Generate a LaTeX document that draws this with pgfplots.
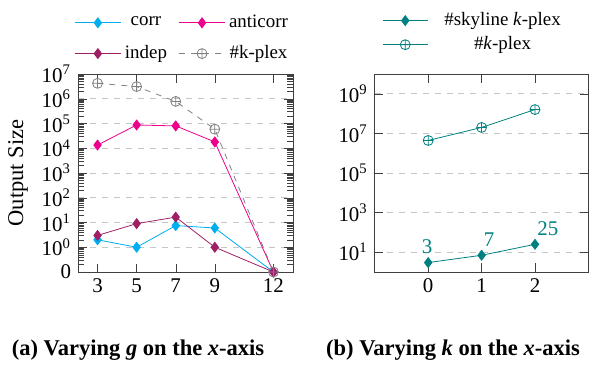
\documentclass[border=0pt]{standalone}
\usepackage{fontspec}
\setmainfont{Liberation Serif}
\usepackage{pgfplots}
\usepackage{pgfplotstable}
\pgfplotsset{compat=1.18}
\definecolor{ccorr}{RGB}{0,174,239}
\definecolor{canti}{RGB}{236,0,140}
\definecolor{cindep}{RGB}{158,31,99}
\definecolor{cteal}{RGB}{0,128,128}
\pgfplotstableread{
x corr anticorr indep kplex
3 2 13500 3 4200000
5 1 87000 9 3100000
7 7.5 80000 16.5 780000
9 6 18000 1 59000
12 0.1 0.1 0.1 0.1
}\leftdata
\pgfplotstableread{
x sky kplex
0 3 4400000
1 7 20000000
2 25 160000000
}\rightdata
\begin{document}
\begin{tikzpicture}
\useasboundingbox (0,0) rectangle (298bp,-182.5bp);
\pgfplotsset{
  every axis/.append style={
    scale only axis,
    axis line style={black!75},
    tick style={black!75},
    ticklabel style={font=\fontsize{10.5}{12}\selectfont},
    ymajorgrids,
    major grid style={dashed, gray!45, line width=0.5pt},
    legend cell align=center,
    legend style={draw=none, fill=none, font=\fontsize{9.5}{11}\selectfont},
    clip=false,
    /pgf/number format/assume math mode=true,
  },
  myleg/.style={legend image code/.code={%
    \draw[mark repeat=2,mark phase=2,##1] plot coordinates {(0cm,0cm) (0.4cm,0cm) (0.8cm,0cm)};}},
}
\begin{axis}[
  at={(39bp,-37bp)}, anchor=north west,
  width=107.5bp, height=99bp,
  ymode=log, ymin=0.1, ymax=1e7,
  xmin=2, xmax=13, xtick={3,5,7,9,12},
  ytick={0.1,1,10,100,1000,10000,100000,1000000,10000000},
  yticklabels={0,10\textsuperscript{0},10\textsuperscript{1},10\textsuperscript{2},10\textsuperscript{3},10\textsuperscript{4},10\textsuperscript{5},10\textsuperscript{6},10\textsuperscript{7}},
  ylabel={Output Size},
  ylabel style={font=\fontsize{11.3}{13}\selectfont},
  myleg,
  legend columns=2,
  legend style={at={(0.49,1.02)}, anchor=south, row sep=3.5bp, /tikz/every even column/.append style={column sep=4bp}},
]
\addplot[ccorr, mark=diamond*, mark size=2.5pt] table[x=x,y=corr]{\leftdata};
\addlegendentry{corr}
\addplot[canti, mark=diamond*, mark size=2.5pt] table[x=x,y=anticorr]{\leftdata};
\addlegendentry{anticorr}
\addplot[cindep, mark=diamond*, mark size=2.5pt] table[x=x,y=indep]{\leftdata};
\addlegendentry{indep}
\addplot[gray, dashed, mark=oplus, mark size=2.5pt, mark options={solid}] table[x=x,y=kplex]{\leftdata};
\addlegendentry{\#k-plex}
\end{axis}
\begin{axis}[
  at={(187.4bp,-37bp)}, anchor=north west,
  width=106.8bp, height=99bp,
  ymode=log, ymin=1, ymax=1e10,
  xmin=-1, xmax=3, xtick={0,1,2},
  ytick={10,1000,100000,10000000,1000000000},
  yticklabels={10\textsuperscript{1},10\textsuperscript{3},10\textsuperscript{5},10\textsuperscript{7},10\textsuperscript{9}},
  minor ytick={},
  myleg,
  legend columns=1,
  legend style={at={(0.49,1.065)}, anchor=south, nodes={inner xsep=8bp}},
]
\addplot[cteal, mark=diamond*, mark size=2.5pt,
  visualization depends on={value \coordindex \as \myidx},
  nodes near coords, point meta=explicit,
  every node near coord/.append style={anchor={\ifnum\myidx=0 south\else south west\fi}, xshift=-0.5bp, yshift=2.5bp, font=\fontsize{10.5}{12}\selectfont, cteal, inner sep=1.5pt}]
  table[x=x,y=sky,meta=sky]{\rightdata};
\addlegendentry{\#skyline \textit{k}-plex}
\addplot[cteal, mark=oplus, mark size=2.5pt] table[x=x,y=kplex]{\rightdata};
\addlegendentry{\#\textit{k}-plex}
\end{axis}
\node[font=\bfseries\fontsize{11.3}{13}\selectfont] at (69bp,-175bp) {(a) Varying \textit{g} on the \textit{x}-axis};
\node[font=\bfseries\fontsize{11.3}{13}\selectfont] at (226.5bp,-175bp) {(b) Varying \textit{k} on the \textit{x}-axis};
\end{tikzpicture}
\end{document}
